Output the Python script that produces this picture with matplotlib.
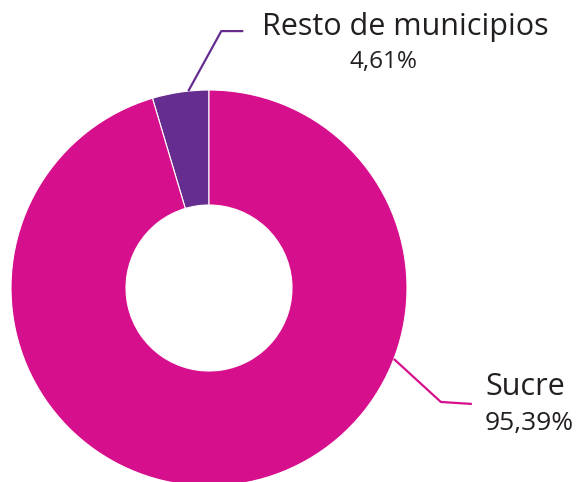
import numpy as np
import matplotlib.pyplot as plt

# data
labels = ['Resto de municipios', 'Sucre']
shares = [4.61, 95.39]
pct_text = ['4,61%', '95,39%']
colors = ['#662D91', '#D60F8C']

plt.rcParams['font.family'] = ['Open Sans', 'DejaVu Sans']
text_color = '#231F20'

W, H = 587, 482
fig = plt.figure(figsize=(W / 100, H / 100), dpi=100)
ax = fig.add_axes([0, 0, 1, 1])

# donut in pixel coords
cx, cy = 209, H - 288
R = 198
ring = 115
wedges, _ = ax.pie(shares, colors=colors, startangle=90, counterclock=True,
                   center=(cx, cy), radius=R, frame=True,
                   wedgeprops=dict(width=ring, edgecolor='white', linewidth=0.8))
ax.set_xlim(0, W)
ax.set_ylim(0, H)
ax.set_aspect('equal')
ax.axis('off')


def on_ring(deg):
    a = np.deg2rad(deg)
    return cx + R * np.cos(a), cy + R * np.sin(a)


# leader line: Resto de municipios
x0, y0 = on_ring(96)
ax.plot([x0, x0 + 33, x0 + 55], [y0, y0 + 60, y0 + 60],
        color=colors[0], lw=1.6, solid_capstyle='butt')
ax.text(262, H - 35, labels[0], fontsize=22, color=text_color,
        ha='left', va='baseline')
ax.text(350, H - 68, pct_text[0], fontsize=17.5, color=text_color,
        ha='left', va='baseline')

# leader line: Sucre
x1, y1 = on_ring(-21)
ax.plot([x1, x1 + 47, x1 + 78], [y1, y1 - 43, y1 - 45],
        color=colors[1], lw=1.6, solid_capstyle='butt')
ax.text(485, H - 395, labels[1], fontsize=22, color=text_color,
        ha='left', va='baseline')
ax.text(485, H - 430, pct_text[1], fontsize=19, color=text_color,
        ha='left', va='baseline')

fig.savefig('out.png', dpi=100)
